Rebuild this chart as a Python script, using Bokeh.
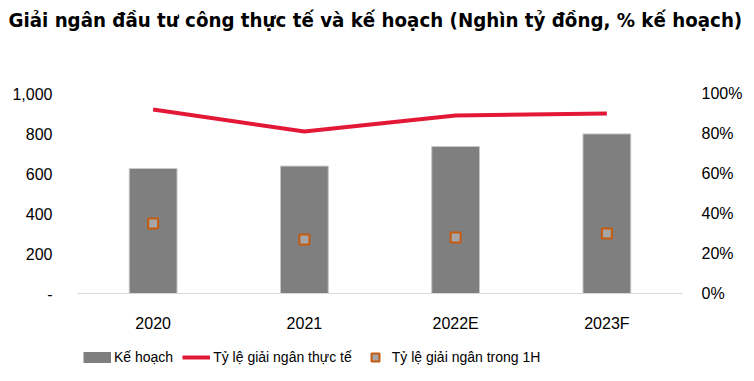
from bokeh.plotting import figure
from bokeh.models import (Range1d, LinearAxis, Legend, LegendItem, Title,
                          FixedTicker, CustomJSTickFormatter, ColumnDataSource)
from bokeh.layouts import column
from bokeh.embed import file_html
from bokeh.resources import INLINE

categories = ["2020", "2021", "2022E", "2023F"]
ke_hoach = [625, 637, 735, 798]          # Nghìn tỷ đồng
ty_le_thuc_te = [92, 81, 89, 90]         # % kế hoạch
ty_le_1h = [35, 27, 28, 30]              # % kế hoạch

left_ticks = [0, 200, 400, 600, 800, 1000]
right_ticks = [0, 20, 40, 60, 80, 100]

FONT = "Liberation Sans"
TFONT = "DejaVu Sans Condensed"
BAR_C = "#7f7f7f"
LINE_C = "#e31837"
MK_FILL = "#a6a6a6"
MK_LINE = "#c55a11"

p = figure(x_range=categories, width=746, height=336,
           output_backend="svg", toolbar_location=None,
           min_border_left=77, min_border_right=64,
           min_border_top=93, min_border_bottom=43)
p.y_range = Range1d(0, 1000)
p.extra_y_ranges = {"pct": Range1d(0, 100)}
p.outline_line_color = None
p.xgrid.grid_line_color = None
p.ygrid.grid_line_color = None

# real title (outer) + blank spacer title next to the frame
p.title.text = "Giải ngân đầu tư công thực tế và kế hoạch (Nghìn tỷ đồng, % kế hoạch)"
p.title.text_font = TFONT
p.title.text_font_style = "bold"
p.title.text_font_size = "20.3px"
p.title.text_color = "#000000"
p.title.align = "left"
p.title.offset = -69
p.title.standoff = 0
p.add_layout(Title(text=" ", text_font_size="54px", standoff=0), "above")

src = ColumnDataSource(dict(cat=categories, kh=ke_hoach, tt=ty_le_thuc_te, h1=ty_le_1h))

p.vbar(x="cat", top="kh", width=0.316, source=src,
       fill_color=BAR_C, line_color="#c8c8c8", line_width=1)
p.line(x="cat", y="tt", source=src, y_range_name="pct",
       line_color=LINE_C, line_width=4)
p.scatter(x="cat", y="h1", source=src, y_range_name="pct", marker="square",
          size=10, fill_color=MK_FILL, line_color=MK_LINE, line_width=2)

ya = p.yaxis[0]
ya.ticker = FixedTicker(ticks=left_ticks)
ya.formatter = CustomJSTickFormatter(code="return tick == 0 ? '-' : tick.toLocaleString('en-US');")
ra = LinearAxis(y_range_name="pct")
ra.ticker = FixedTicker(ticks=right_ticks)
ra.formatter = CustomJSTickFormatter(code="return tick + '%';")
p.add_layout(ra, "right")
xa = p.xaxis[0]

for ax in (ya, ra, xa):
    ax.axis_line_color = None
    ax.major_tick_line_color = None
    ax.major_tick_out = 0
    ax.major_tick_in = 0
    ax.minor_tick_line_color = None
    ax.major_label_text_font = FONT
    ax.major_label_text_font_size = "16px"
    ax.major_label_text_color = "#000000"
ya.major_label_standoff = 25
ra.major_label_standoff = 19
xa.axis_line_color = "#d9d9d9"
xa.major_label_standoff = 21

# legend strip (proxy renderers whose points lie outside the visible range)
lg = figure(width=746, height=40, output_backend="svg", toolbar_location=None,
            x_axis_type=None, y_axis_type=None, min_border=0,
            x_range=Range1d(0, 1), y_range=Range1d(0, 1))
lg.outline_line_color = None
r_bar = lg.line(x=[-5, -4], y=[-5, -5], line_color=BAR_C, line_width=11)
r_line = lg.line(x=[-5, -4], y=[-5, -5], line_color=LINE_C, line_width=4)
r_pts = lg.scatter(x=[-5], y=[-5], marker="square", fill_color=MK_FILL,
                   line_color=MK_LINE, line_width=2)
legend = Legend(items=[
    LegendItem(label="Kế hoạch", renderers=[r_bar]),
    LegendItem(label="Tỷ lệ giải ngân thực tế", renderers=[r_line]),
    LegendItem(label="Tỷ lệ giải ngân trong 1H", renderers=[r_pts]),
], orientation="horizontal", location=(6, 9),
   glyph_width=28, glyph_height=20, label_standoff=3, spacing=9,
   padding=0, margin=0, border_line_color=None, background_fill_alpha=0,
   label_text_font=FONT, label_text_font_size="14px", label_text_color="#000000")
lg.add_layout(legend, "center")

open("out.html", "w").write(file_html(column(p, lg), INLINE))
